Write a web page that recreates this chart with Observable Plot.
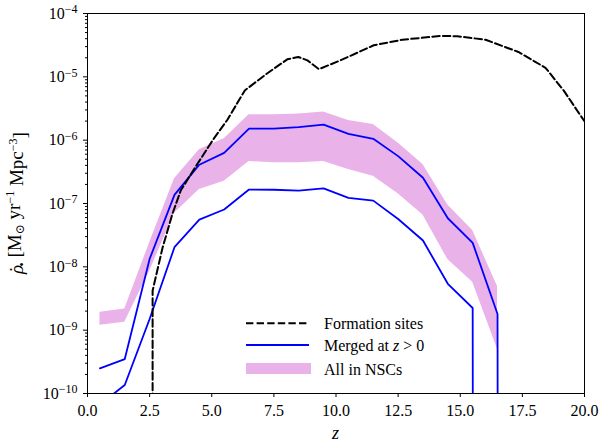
<!DOCTYPE html>
<html><head><meta charset="utf-8">
<script src="https://cdn.jsdelivr.net/npm/d3@7"></script>
<script src="https://cdn.jsdelivr.net/npm/@observablehq/plot@0.6"></script>
<style>
body{margin:0;background:#fff}
#chart svg, #chart svg text, #chart svg tspan{font-family:"Liberation Serif","Times New Roman",Tinos,Times,"DejaVu Serif","Noto Serif",FreeSerif,serif !important}
</style>
</head><body><div id="chart"></div>
<script>
// ---- data ----
const binZ = [0.5,1.5,2.5,3.5,4.5,5.5,6.5,7.5,8.5,9.5,10.5,11.5,12.5,13.5,14.5,15.5,16.5,17.5];
// "All in NSCs" band (lower / upper)
const nscLow  = [1.2e-9,1.33e-9,8.5e-9,7e-8,1.66e-7,2.25e-7,4.6e-7,4.4e-7,4.4e-7,4.6e-7,3.45e-7,2.7e-7,1.42e-7,6.6e-8,1.3e-8,5.7e-9,5.0e-10];
const nscHigh = [1.91e-9,2.16e-9,2.4e-8,2.45e-7,7.06e-7,1.05e-6,2.53e-6,2.53e-6,2.6e-6,2.78e-6,2.05e-6,1.76e-6,9.0e-7,4.14e-7,9.5e-8,3.74e-8,4.9e-9];
// "Merged at z>0" upper and lower blue curves (1e-300 = zero, clipped like matplotlib)
const mergedUpper = [2.5e-10,3.5e-10,1.33e-8,1.37e-7,4.1e-7,6.3e-7,1.52e-6,1.52e-6,1.61e-6,1.76e-6,1.26e-6,1.05e-6,5.6e-7,2.55e-7,5.85e-8,2.39e-8,1.8e-9,1e-300];
const mergedLower = [6.7e-11,1.36e-10,1.5e-9,2.04e-8,5.58e-8,8.03e-8,1.66e-7,1.65e-7,1.6e-7,1.73e-7,1.23e-7,1.11e-7,5.7e-8,2.6e-8,5.4e-9,2.24e-9,1e-300];
// "Formation sites" dashed curve
const formZ    = [2.58,2.62,3.02,3.42,3.75,4.42,5.09,5.63,6.33,7.24,8.04,8.48,8.85,9.31,10.18,11.52,12.67,14.2,14.88,16.02,17.34,18.43,19.16,19.97,20.3];
const formRate = [1e-300,4.2e-9,2.0e-8,6.9e-8,1.6e-7,4.2e-7,1.07e-6,2.1e-6,6.1e-6,1.14e-5,1.89e-5,2.06e-5,1.82e-5,1.32e-5,1.82e-5,3.15e-5,3.85e-5,4.42e-5,4.38e-5,3.85e-5,2.47e-5,1.39e-5,6.1e-6,2.06e-6,1.5e-6];
// ticks
const xTicks = [0,2.5,5,7.5,10,12.5,15,17.5,20];
const yMajor = [1e-10,1e-9,1e-8,1e-7,1e-6,1e-5,1e-4];
const legendLabels = ["Formation sites","Merged at z > 0","All in NSCs"];

const yMinor = [];
for (let e = -10; e < -4; e++) for (let m = 2; m <= 9; m++) yMinor.push(m * Math.pow(10, e));

const band = nscLow.map((lo, i) => ({z: binZ[i], lo, hi: nscHigh[i]}));
const upper = mergedUpper.map((v, i) => ({z: binZ[i], v}));
const lower = mergedLower.map((v, i) => ({z: binZ[i], v}));
const form = formRate.map((v, i) => ({z: formZ[i], v}));

const BLUE = "#0000ff", PINK = "#E9B3E9";
const SERIF = "'Liberation Serif', 'Times New Roman', Tinos, Times, 'DejaVu Serif', 'Noto Serif', FreeSerif, serif";

const svg = Plot.plot({
  width: 603, height: 443,
  marginLeft: 87, marginRight: 19, marginTop: 13, marginBottom: 50,
  style: {fontFamily: SERIF, fontSize: "16px", color: "black", background: "white"},
  x: {domain: [0, 20], label: null},
  y: {type: "log", domain: [1e-10, 1e-4], label: null},
  marks: [
    Plot.areaY(band, {x: "z", y1: "lo", y2: "hi", fill: PINK, clip: true}),
    Plot.line(upper, {x: "z", y: "v", stroke: BLUE, strokeWidth: 1.8, clip: true}),
    Plot.line(lower, {x: "z", y: "v", stroke: BLUE, strokeWidth: 1.8, clip: true}),
    Plot.line(form, {x: "z", y: "v", stroke: "black", strokeWidth: 2, strokeDasharray: "7.4,3.2", clip: true}),
    Plot.axisY(yMinor, {tickSize: 2, tickFormat: () => "", label: null}),
    Plot.axisY(yMajor, {tickSize: 4, tickPadding: 6, fontSize: 16, label: null,
      tickFormat: d => "10^" + Math.round(Math.log10(d))}),
    Plot.axisX(xTicks, {tickSize: 4, tickPadding: 7.5, fontSize: 16, label: null, tickFormat: d3.format(".1f")}),
    Plot.frame({stroke: "black", strokeWidth: 1})
  ]
});

const s = d3.select(svg);
// superscript exponents on y tick labels
s.selectAll("text").each(function() {
  const t = d3.select(this);
  const txt = t.text();
  if (/^10\^-?\d+$/.test(txt)) {
    const exp = txt.split("^")[1].replace("-", "\u2212");
    t.text("10");
    t.append("tspan").attr("dy", "-0.45em").attr("font-size", "12px").text(exp);
  }
});

const cx = (87 + (603 - 19)) / 2, cy = (13 + (443 - 50)) / 2;
// y label
const yl = s.append("text").attr("transform", `translate(23,${cy}) rotate(-90)`)
  .attr("text-anchor", "middle").attr("font-size", "19px").attr("fill", "black");
yl.append("tspan").attr("font-style", "italic").text("\u03C1");
yl.append("tspan").attr("dx", "-0.42em").text("\u02D9");
yl.append("tspan").attr("dy", "0.25em").attr("font-size", "12px").text("\u2022");
yl.append("tspan").attr("dy", "-0.25em").text(" [M");
yl.append("tspan").attr("dy", "0.25em").attr("font-size", "12px").text("\u2299");
yl.append("tspan").attr("dy", "-0.25em").text(" yr");
yl.append("tspan").attr("dy", "-0.45em").attr("font-size", "12px").text("\u22121");
yl.append("tspan").attr("dy", "0.45em").text(" Mpc");
yl.append("tspan").attr("dy", "-0.45em").attr("font-size", "12px").text("\u22123");
yl.append("tspan").attr("dy", "0.45em").text("]");
// x label
s.append("text").attr("x", cx).attr("y", 439).attr("text-anchor", "middle")
  .attr("font-size", "18px").attr("font-style", "italic").attr("fill", "black").text("z");

// legend
const lg = s.append("g").attr("font-size", "16px").attr("fill", "black").attr("text-anchor", "start");
const rows = [323.3, 345, 368.5];
lg.append("line").attr("x1", 246).attr("x2", 309).attr("y1", rows[0]).attr("y2", rows[0])
  .attr("stroke", "black").attr("stroke-width", 2).attr("stroke-dasharray", "7.4,3.2");
lg.append("line").attr("x1", 246).attr("x2", 309).attr("y1", rows[1]).attr("y2", rows[1])
  .attr("stroke", BLUE).attr("stroke-width", 1.8);
lg.append("rect").attr("x", 246).attr("y", rows[2] - 5.5).attr("width", 65).attr("height", 11).attr("fill", PINK);
lg.append("text").attr("x", 324).attr("y", rows[0] + 6).attr("text-anchor", "start").text(legendLabels[0]);
const t2 = lg.append("text").attr("x", 324).attr("y", rows[1] + 6).attr("text-anchor", "start");
t2.append("tspan").text("Merged at ");
t2.append("tspan").attr("font-style", "italic").text("z");
t2.append("tspan").text(" > 0");
lg.append("text").attr("x", 324).attr("y", rows[2] + 6).attr("text-anchor", "start").text(legendLabels[2]);

document.getElementById("chart").appendChild(svg);
</script>
</body></html>
